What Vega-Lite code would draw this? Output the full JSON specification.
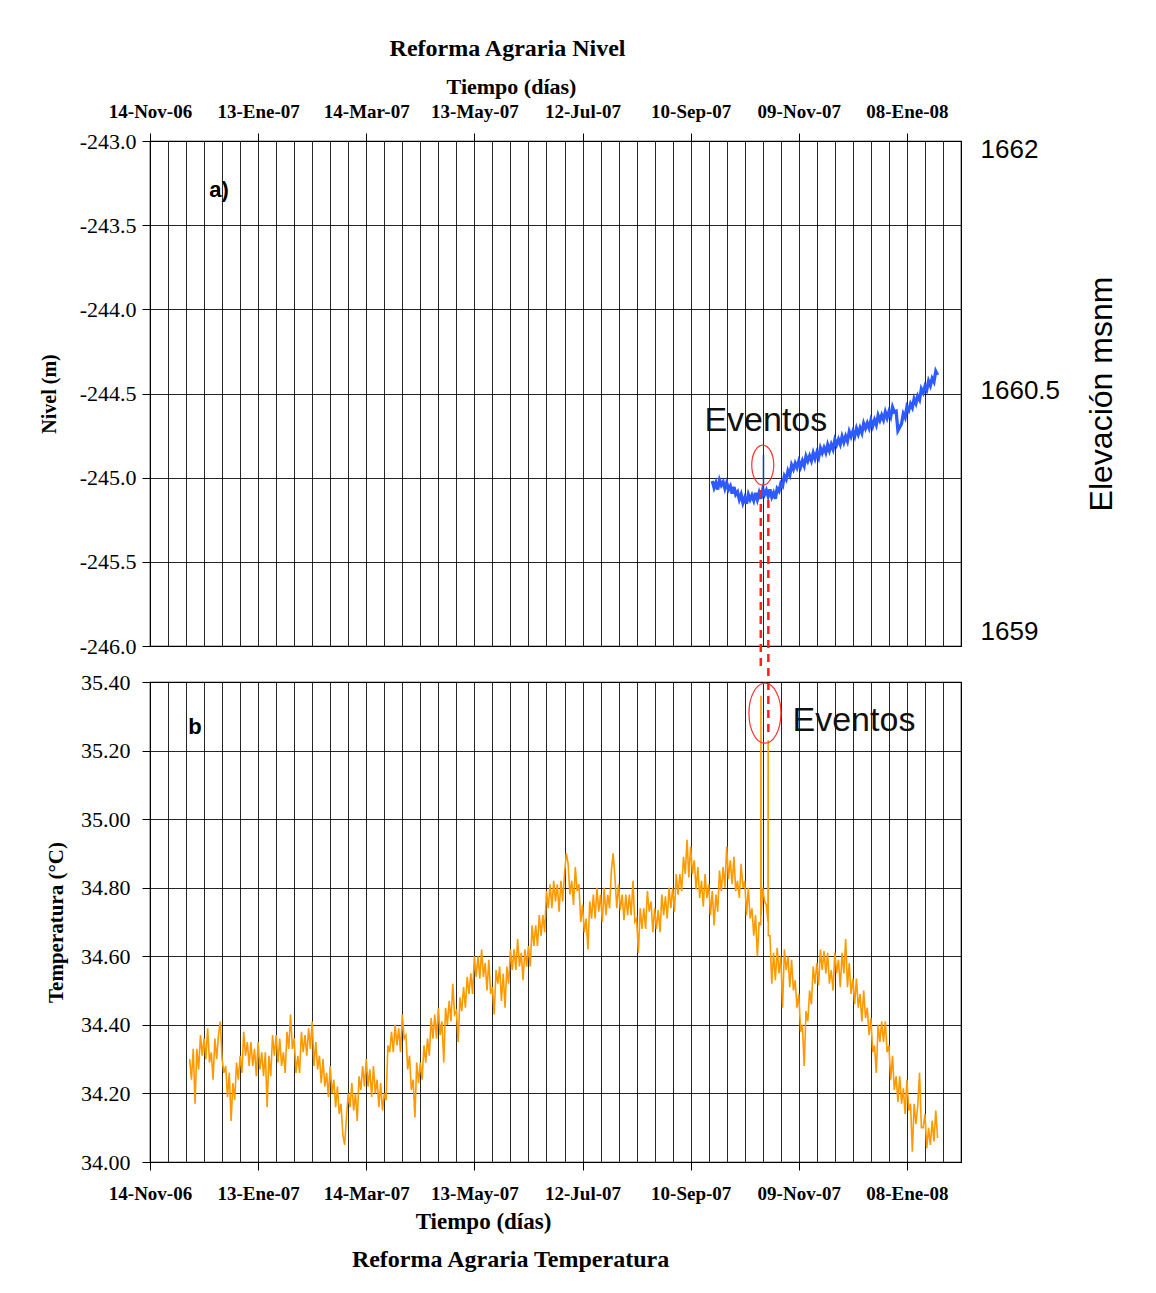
{
 "$schema": "https://vega.github.io/schema/vega-lite/v6.json",
 "padding": {"left": 38, "top": 36, "right": 10, "bottom": 10},
 "background": "white",
 "bounds": "flush",
 "spacing": 36,
 "config": {
  "view": {"stroke": "#000", "strokeWidth": 1.2},
  "axis": {"gridColor": "#000", "gridOpacity": 0.85, "gridWidth": 1, "domain": false, "tickColor": "#000", "labelColor": "#000", "titleColor": "#000"},
  "title": {"color": "#000"}
 },
 "datasets": {
  "nivel": [
   {"d":312,"v":-245.02},{"d":313,"v":-245.06},{"d":314,"v":-245.03},{"d":315,"v":-245.07},{"d":316,"v":-245.015},{"d":317,"v":-245.045},{"d":318,"v":-245.025},{"d":319,"v":-245.065},
   {"d":320,"v":-245.03},{"d":321,"v":-245.07},{"d":322,"v":-245.05},{"d":323,"v":-245.095},{"d":324,"v":-245.055},{"d":325,"v":-245.1},{"d":326,"v":-245.085},{"d":327,"v":-245.13},
   {"d":328,"v":-245.1},{"d":329,"v":-245.15},{"d":330,"v":-245.12},{"d":331,"v":-245.155},{"d":332,"v":-245.1},{"d":333,"v":-245.13},{"d":334,"v":-245.105},{"d":335,"v":-245.135},
   {"d":336,"v":-245.09},{"d":337,"v":-245.13},{"d":338,"v":-245.09},{"d":339,"v":-245.125},{"d":340,"v":-245.07},{"d":341,"v":-245.1},{"d":342,"v":-245.075},{"d":343,"v":-245.11},
   {"d":344,"v":-245.07},{"d":345,"v":-245.115},{"d":346,"v":-245.09},{"d":347,"v":-245.125},{"d":348,"v":-245.065},{"d":349,"v":-245.08},{"d":350,"v":-245.035},{"d":351,"v":-245.05},
   {"d":352,"v":-244.99},{"d":353,"v":-245.01},{"d":354,"v":-244.96},{"d":355,"v":-244.985},{"d":356,"v":-244.925},{"d":357,"v":-244.95},{"d":358,"v":-244.915},{"d":359,"v":-244.94},
   {"d":360,"v":-244.902},{"d":361,"v":-244.936},{"d":362,"v":-244.9},{"d":363,"v":-244.929},{"d":364,"v":-244.873},{"d":365,"v":-244.901},{"d":366,"v":-244.87},{"d":367,"v":-244.899},
   {"d":368,"v":-244.853},{"d":369,"v":-244.887},{"d":370,"v":-244.851},{"d":371,"v":-244.88},{"d":372,"v":-244.824},{"d":373,"v":-244.853},{"d":374,"v":-244.822},{"d":375,"v":-244.851},
   {"d":376,"v":-244.805},{"d":377,"v":-244.839},{"d":378,"v":-244.803},{"d":379,"v":-244.831},{"d":380,"v":-244.775},{"d":381,"v":-244.804},{"d":382,"v":-244.773},{"d":383,"v":-244.802},
   {"d":384,"v":-244.756},{"d":385,"v":-244.79},{"d":386,"v":-244.754},{"d":387,"v":-244.783},{"d":388,"v":-244.727},{"d":389,"v":-244.756},{"d":390,"v":-244.725},{"d":391,"v":-244.754},
   {"d":392,"v":-244.708},{"d":393,"v":-244.741},{"d":394,"v":-244.705},{"d":395,"v":-244.734},{"d":396,"v":-244.678},{"d":397,"v":-244.707},{"d":398,"v":-244.676},{"d":399,"v":-244.705},
   {"d":400,"v":-244.659},{"d":401,"v":-244.693},{"d":402,"v":-244.657},{"d":403,"v":-244.686},{"d":404,"v":-244.63},{"d":405,"v":-244.659},{"d":406,"v":-244.628},{"d":407,"v":-244.656},
   {"d":408,"v":-244.61},{"d":409,"v":-244.644},{"d":410,"v":-244.608},{"d":411,"v":-244.637},{"d":412,"v":-244.581},{"d":413,"v":-244.61},{"d":414,"v":-244.605},{"d":415,"v":-244.72},
   {"d":416,"v":-244.7},{"d":417,"v":-244.68},{"d":418,"v":-244.62},{"d":419,"v":-244.642},{"d":420,"v":-244.579},{"d":421,"v":-244.6},{"d":422,"v":-244.562},{"d":423,"v":-244.584},
   {"d":424,"v":-244.531},{"d":425,"v":-244.558},{"d":426,"v":-244.515},{"d":427,"v":-244.537},{"d":428,"v":-244.473},{"d":429,"v":-244.495},{"d":430,"v":-244.457},{"d":431,"v":-244.479},
   {"d":432,"v":-244.426},{"d":433,"v":-244.453},{"d":434,"v":-244.41},{"d":435,"v":-244.431},{"d":436,"v":-244.368},{"d":437,"v":-244.39}
  ],
  "temp": [
   {"d":22,"v":34.30},{"d":23,"v":34.24},{"d":24,"v":34.33},{"d":25,"v":34.17},{"d":26,"v":34.33},{"d":27,"v":34.27},{"d":28,"v":34.37},{"d":29,"v":34.31},
   {"d":30,"v":34.36},{"d":31,"v":34.30},{"d":32,"v":34.39},{"d":33,"v":34.29},{"d":34,"v":34.32},{"d":35,"v":34.24},{"d":36,"v":34.36},{"d":37,"v":34.30},
   {"d":38,"v":34.37},{"d":39,"v":34.41},{"d":40,"v":34.30},{"d":41,"v":34.26},{"d":42,"v":34.28},{"d":43,"v":34.19},{"d":44,"v":34.26},{"d":45,"v":34.12},
   {"d":46,"v":34.23},{"d":47,"v":34.18},{"d":48,"v":34.29},{"d":49,"v":34.24},{"d":50,"v":34.31},{"d":51,"v":34.26},{"d":52,"v":34.38},{"d":53,"v":34.31},
   {"d":54,"v":34.35},{"d":55,"v":34.28},{"d":56,"v":34.35},{"d":57,"v":34.28},{"d":58,"v":34.33},{"d":59,"v":34.25},{"d":60,"v":34.35},{"d":61,"v":34.27},
   {"d":62,"v":34.32},{"d":63,"v":34.25},{"d":64,"v":34.32},{"d":65,"v":34.16},{"d":66,"v":34.31},{"d":67,"v":34.25},{"d":68,"v":34.37},{"d":69,"v":34.31},
   {"d":70,"v":34.37},{"d":71,"v":34.29},{"d":72,"v":34.36},{"d":73,"v":34.28},{"d":74,"v":34.32},{"d":75,"v":34.26},{"d":76,"v":34.38},{"d":77,"v":34.33},
   {"d":78,"v":34.43},{"d":79,"v":34.33},{"d":80,"v":34.36},{"d":81,"v":34.26},{"d":82,"v":34.31},{"d":83,"v":34.26},{"d":84,"v":34.38},{"d":85,"v":34.32},
   {"d":86,"v":34.37},{"d":87,"v":34.31},{"d":88,"v":34.39},{"d":89,"v":34.33},{"d":90,"v":34.41},{"d":91,"v":34.28},{"d":92,"v":34.35},{"d":93,"v":34.27},
   {"d":94,"v":34.31},{"d":95,"v":34.23},{"d":96,"v":34.30},{"d":97,"v":34.22},{"d":98,"v":34.26},{"d":99,"v":34.19},{"d":100,"v":34.28},{"d":101,"v":34.20},
   {"d":102,"v":34.24},{"d":103,"v":34.16},{"d":104,"v":34.22},{"d":105,"v":34.14},{"d":106,"v":34.17},{"d":107,"v":34.08},{"d":108,"v":34.05},{"d":109,"v":34.13},
   {"d":110,"v":34.20},{"d":111,"v":34.16},{"d":112,"v":34.23},{"d":113,"v":34.15},{"d":114,"v":34.20},{"d":115,"v":34.12},{"d":116,"v":34.25},{"d":117,"v":34.21},
   {"d":118,"v":34.28},{"d":119,"v":34.22},{"d":120,"v":34.30},{"d":121,"v":34.22},{"d":122,"v":34.27},{"d":123,"v":34.19},{"d":124,"v":34.28},{"d":125,"v":34.20},
   {"d":126,"v":34.24},{"d":127,"v":34.16},{"d":128,"v":34.23},{"d":129,"v":34.15},{"d":130,"v":34.20},{"d":131,"v":34.18},{"d":132,"v":34.34},{"d":133,"v":34.32},
   {"d":134,"v":34.38},{"d":135,"v":34.32},{"d":136,"v":34.40},{"d":137,"v":34.34},{"d":138,"v":34.39},{"d":139,"v":34.32},{"d":140,"v":34.43},{"d":141,"v":34.36},
   {"d":142,"v":34.37},{"d":143,"v":34.27},{"d":144,"v":34.31},{"d":145,"v":34.21},{"d":146,"v":34.24},{"d":147,"v":34.13},{"d":148,"v":34.29},{"d":149,"v":34.23},
   {"d":150,"v":34.29},{"d":151,"v":34.24},{"d":152,"v":34.34},{"d":153,"v":34.29},{"d":154,"v":34.36},{"d":155,"v":34.31},{"d":156,"v":34.42},{"d":157,"v":34.36},
   {"d":158,"v":34.43},{"d":159,"v":34.36},{"d":160,"v":34.45},{"d":161,"v":34.37},{"d":162,"v":34.41},{"d":163,"v":34.29},{"d":164,"v":34.45},{"d":165,"v":34.40},
   {"d":166,"v":34.47},{"d":167,"v":34.41},{"d":168,"v":34.52},{"d":169,"v":34.43},{"d":170,"v":34.44},{"d":171,"v":34.35},{"d":172,"v":34.48},{"d":173,"v":34.44},
   {"d":174,"v":34.51},{"d":175,"v":34.45},{"d":176,"v":34.54},{"d":177,"v":34.49},{"d":178,"v":34.55},{"d":179,"v":34.49},{"d":180,"v":34.60},{"d":181,"v":34.54},
   {"d":182,"v":34.60},{"d":183,"v":34.535},{"d":184,"v":34.62},{"d":185,"v":34.54},{"d":186,"v":34.58},{"d":187,"v":34.50},{"d":188,"v":34.59},{"d":189,"v":34.49},
   {"d":190,"v":34.51},{"d":191,"v":34.43},{"d":192,"v":34.56},{"d":193,"v":34.52},{"d":194,"v":34.57},{"d":195,"v":34.47},{"d":196,"v":34.55},{"d":197,"v":34.45},
   {"d":198,"v":34.57},{"d":199,"v":34.52},{"d":200,"v":34.62},{"d":201,"v":34.56},{"d":202,"v":34.62},{"d":203,"v":34.56},{"d":204,"v":34.65},{"d":205,"v":34.57},
   {"d":206,"v":34.61},{"d":207,"v":34.53},{"d":208,"v":34.62},{"d":209,"v":34.57},{"d":210,"v":34.63},{"d":211,"v":34.57},{"d":212,"v":34.69},{"d":213,"v":34.63},
   {"d":214,"v":34.69},{"d":215,"v":34.63},{"d":216,"v":34.72},{"d":217,"v":34.66},{"d":218,"v":34.72},{"d":219,"v":34.67},{"d":220,"v":34.79},{"d":221,"v":34.74},
   {"d":222,"v":34.81},{"d":223,"v":34.74},{"d":224,"v":34.82},{"d":225,"v":34.76},{"d":226,"v":34.81},{"d":227,"v":34.73},{"d":228,"v":34.82},{"d":229,"v":34.76},
   {"d":230,"v":34.84},{"d":231,"v":34.90},{"d":232,"v":34.87},{"d":233,"v":34.78},{"d":234,"v":34.82},{"d":235,"v":34.75},{"d":236,"v":34.86},{"d":237,"v":34.79},
   {"d":238,"v":34.81},{"d":239,"v":34.70},{"d":240,"v":34.75},{"d":241,"v":34.67},{"d":242,"v":34.71},{"d":243,"v":34.62},{"d":244,"v":34.76},{"d":245,"v":34.71},
   {"d":246,"v":34.78},{"d":247,"v":34.71},{"d":248,"v":34.80},{"d":249,"v":34.73},{"d":250,"v":34.78},{"d":251,"v":34.70},{"d":252,"v":34.80},{"d":253,"v":34.72},
   {"d":254,"v":34.78},{"d":255,"v":34.74},{"d":256,"v":34.85},{"d":257,"v":34.90},{"d":258,"v":34.83},{"d":259,"v":34.74},{"d":260,"v":34.81},{"d":261,"v":34.735},
   {"d":262,"v":34.78},{"d":263,"v":34.705},{"d":264,"v":34.78},{"d":265,"v":34.72},{"d":266,"v":34.78},{"d":267,"v":34.72},{"d":268,"v":34.82},{"d":269,"v":34.70},
   {"d":270,"v":34.71},{"d":271,"v":34.61},{"d":272,"v":34.74},{"d":273,"v":34.68},{"d":274,"v":34.74},{"d":275,"v":34.68},{"d":276,"v":34.79},{"d":277,"v":34.73},
   {"d":278,"v":34.76},{"d":279,"v":34.67},{"d":280,"v":34.74},{"d":281,"v":34.68},{"d":282,"v":34.735},{"d":283,"v":34.67},{"d":284,"v":34.78},{"d":285,"v":34.72},
   {"d":286,"v":34.775},{"d":287,"v":34.71},{"d":288,"v":34.80},{"d":289,"v":34.74},{"d":290,"v":34.80},{"d":291,"v":34.73},{"d":292,"v":34.84},{"d":293,"v":34.78},
   {"d":294,"v":34.84},{"d":295,"v":34.79},{"d":296,"v":34.89},{"d":297,"v":34.84},{"d":298,"v":34.94},{"d":299,"v":34.83},{"d":300,"v":34.92},{"d":301,"v":34.84},
   {"d":302,"v":34.88},{"d":303,"v":34.795},{"d":304,"v":34.86},{"d":305,"v":34.77},{"d":306,"v":34.82},{"d":307,"v":34.745},{"d":308,"v":34.84},{"d":309,"v":34.77},
   {"d":310,"v":34.81},{"d":311,"v":34.72},{"d":312,"v":34.79},{"d":313,"v":34.69},{"d":314,"v":34.78},{"d":315,"v":34.73},{"d":316,"v":34.85},{"d":317,"v":34.79},
   {"d":318,"v":34.86},{"d":319,"v":34.80},{"d":320,"v":34.92},{"d":321,"v":34.825},{"d":322,"v":34.88},{"d":323,"v":34.81},{"d":324,"v":34.89},{"d":325,"v":34.79},
   {"d":326,"v":34.82},{"d":327,"v":34.77},{"d":328,"v":34.87},{"d":329,"v":34.80},{"d":330,"v":34.82},{"d":331,"v":34.72},{"d":332,"v":34.80},{"d":333,"v":34.71},
   {"d":334,"v":34.74},{"d":335,"v":34.66},{"d":336,"v":34.72},{"d":337,"v":34.60},{"d":338,"v":34.70},{"d":338.9,"v":34.69},{"d":339,"v":35.36},{"d":339.1,"v":34.72},
   {"d":340,"v":34.80},{"d":341,"v":34.76},{"d":342,"v":34.75},{"d":342.9,"v":34.70},{"d":343,"v":35.23},{"d":343.1,"v":34.66},{"d":344,"v":34.66},{"d":345,"v":34.52},
   {"d":346,"v":34.61},{"d":347,"v":34.53},{"d":348,"v":34.625},{"d":349,"v":34.55},{"d":350,"v":34.60},{"d":351,"v":34.45},{"d":352,"v":34.62},{"d":353,"v":34.56},
   {"d":354,"v":34.60},{"d":355,"v":34.51},{"d":356,"v":34.59},{"d":357,"v":34.50},{"d":358,"v":34.53},{"d":359,"v":34.45},{"d":360,"v":34.49},{"d":361,"v":34.38},
   {"d":362,"v":34.40},{"d":363,"v":34.28},{"d":364,"v":34.44},{"d":365,"v":34.41},{"d":366,"v":34.50},{"d":367,"v":34.46},{"d":368,"v":34.57},{"d":369,"v":34.52},
   {"d":370,"v":34.58},{"d":371,"v":34.515},{"d":372,"v":34.62},{"d":373,"v":34.56},{"d":374,"v":34.615},{"d":375,"v":34.55},{"d":376,"v":34.61},{"d":377,"v":34.52},
   {"d":378,"v":34.56},{"d":379,"v":34.50},{"d":380,"v":34.61},{"d":381,"v":34.55},{"d":382,"v":34.59},{"d":383,"v":34.51},{"d":384,"v":34.61},{"d":385,"v":34.55},
   {"d":386,"v":34.65},{"d":387,"v":34.51},{"d":388,"v":34.58},{"d":389,"v":34.49},{"d":390,"v":34.535},{"d":391,"v":34.46},{"d":392,"v":34.535},{"d":393,"v":34.45},
   {"d":394,"v":34.49},{"d":395,"v":34.41},{"d":396,"v":34.50},{"d":397,"v":34.42},{"d":398,"v":34.45},{"d":399,"v":34.37},{"d":400,"v":34.42},{"d":401,"v":34.32},
   {"d":402,"v":34.34},{"d":403,"v":34.26},{"d":404,"v":34.40},{"d":405,"v":34.35},{"d":406,"v":34.41},{"d":407,"v":34.35},{"d":408,"v":34.41},{"d":409,"v":34.32},
   {"d":410,"v":34.34},{"d":411,"v":34.24},{"d":412,"v":34.31},{"d":413,"v":34.21},{"d":414,"v":34.25},{"d":415,"v":34.175},{"d":416,"v":34.25},{"d":417,"v":34.17},
   {"d":418,"v":34.215},{"d":419,"v":34.14},{"d":420,"v":34.24},{"d":421,"v":34.15},{"d":422,"v":34.17},{"d":423,"v":34.03},{"d":424,"v":34.17},{"d":425,"v":34.11},
   {"d":426,"v":34.165},{"d":427,"v":34.26},{"d":428,"v":34.10},{"d":429,"v":34.10},{"d":430,"v":34.14},{"d":431,"v":34.04},{"d":432,"v":34.10},{"d":433,"v":34.05},
   {"d":434,"v":34.12},{"d":435,"v":34.06},{"d":436,"v":34.15},{"d":437,"v":34.07}
  ]
 },
 "vconcat": [
  {
   "width": 811,
   "height": 505,
   "title": {"text": "Reforma Agraria Nivel", "font": "Liberation Serif", "fontSize": 24, "fontWeight": "bold", "offset": 14, "dx": -48},
   "layer": [
    {
     "encoding": {
      "x": {"field": "d", "type": "quantitative", "scale": {"domain": [0, 450], "nice": false, "zero": false},
       "axis": {"orient": "top", "values": [0,10,20,30,40,50,60,70,80,90,100,110,120,130,140,150,160,170,180,190,200,210,220,230,240,250,260,270,280,290,300,310,320,330,340,350,360,370,380,390,400,410,420,430,440,450],
        "labelExpr": "datum.value % 60 === 0 ? replace(utcFormat(utc(2006, 10, 14) + datum.value * 86400000, '%d-%b-%y'), 'Jan', 'Ene') : ''",
        "labelFlush": false, "labelOverlap": false,
        "tickOpacity": {"condition": {"test": "datum.value % 60 === 0", "value": 1}, "value": 0},
        "tickSize": 8, "labelFont": "Liberation Serif", "labelFontSize": 19, "labelFontWeight": "bold", "labelPadding": 12,
        "title": "Tiempo (días)", "titleFont": "Liberation Serif", "titleFontSize": 22, "titleFontWeight": "bold", "titlePadding": 4, "titleX": 361, "grid": true}},
      "y": {"field": "v", "type": "quantitative", "scale": {"domain": [-246, -243], "nice": false, "zero": false},
       "axis": {"values": [-246, -245.5, -245, -244.5, -244, -243.5, -243], "labelExpr": "replace(format(datum.value, '.1f'), '\u2212', '-')", "tickSize": 8,
        "labelFont": "Liberation Serif", "labelFontSize": 22, "labelPadding": 6,
        "title": "Nivel (m)", "titleFont": "Liberation Serif", "titleFontSize": 20, "titleFontWeight": "bold", "titlePadding": 20, "grid": true}}
     },
     "layer": [
      {
       "data": {"name": "nivel"},
       "mark": {"type": "line", "color": "#2e5bff", "strokeWidth": 3.3}
      },
      {
       "data": {"values": [{"d": 340.4, "v": -245.07, "v2": -244.865}]},
       "mark": {"type": "rule", "color": "#1f3a9f", "strokeWidth": 1.5},
       "encoding": {"y2": {"field": "v2"}}
      },
      {
       "data": {"values": [{"d": 338.9, "v": -245.073, "v2": -246.155}, {"d": 343.1, "v": -245.133, "v2": -246.541}]},
       "mark": {"type": "rule", "color": "#ff2020", "strokeWidth": 2.5, "strokeDash": [8, 6]},
       "encoding": {"y2": {"field": "v2"}}
      },
      {
       "data": {"values": [{"d": 340, "v": -244.925}]},
       "mark": {"type": "point", "shape": "M -0.55 0 C -0.55 -0.5523 -0.3038 -1 0 -1 C 0.3038 -1 0.55 -0.5523 0.55 0 C 0.55 0.5523 0.3038 1 0 1 C -0.3038 1 -0.55 0.5523 -0.55 0 Z", "size": 1600, "filled": false, "stroke": "#ff3030", "strokeWidth": 1.2, "opacity": 1}
      },
      {
       "data": {"values": [{"d": 341.7, "v": -244.663, "txt": "Eventos"}]},
       "mark": {"type": "text", "font": "Liberation Sans", "fontSize": 34, "color": "#111"},
       "encoding": {"text": {"field": "txt"}}
      },
      {
       "data": {"values": [{"d": 38.3, "v": -243.29, "txt": "a)"}]},
       "mark": {"type": "text", "font": "Liberation Sans", "fontSize": 22, "fontWeight": "bold", "color": "#000"},
       "encoding": {"text": {"field": "txt"}}
      }
     ]
    },
    {
     "data": {"values": [{"elev": 1659}, {"elev": 1660.5}, {"elev": 1662}]},
     "mark": {"type": "point", "opacity": 0},
     "encoding": {
      "y": {"field": "elev", "type": "quantitative", "scale": {"domain": [1658.91, 1662.05], "nice": false, "zero": false},
       "axis": {"orient": "right", "values": [1659, 1660.5, 1662], "labelExpr": "'' + datum.value", "ticks": false, "grid": false, "domain": false,
        "labelFont": "Liberation Sans", "labelFontSize": 26, "labelPadding": 19,
        "title": "Elevación msnm", "titleFont": "Liberation Sans", "titleFontSize": 32, "titleFontWeight": "normal", "titleAngle": 270, "titleBaseline": "top", "titlePadding": 27}}
     }
    }
   ],
   "resolve": {"scale": {"y": "independent"}}
  },
  {
   "width": 811,
   "height": 480,
   "title": {"text": "Reforma Agraria Temperatura", "orient": "bottom", "font": "Liberation Serif", "fontSize": 24, "fontWeight": "bold", "offset": 15, "dx": -45},
   "encoding": {
    "x": {"field": "d", "type": "quantitative", "scale": {"domain": [0, 450], "nice": false, "zero": false},
     "axis": {"orient": "bottom", "values": [0,10,20,30,40,50,60,70,80,90,100,110,120,130,140,150,160,170,180,190,200,210,220,230,240,250,260,270,280,290,300,310,320,330,340,350,360,370,380,390,400,410,420,430,440,450],
      "labelExpr": "datum.value % 60 === 0 ? replace(utcFormat(utc(2006, 10, 14) + datum.value * 86400000, '%d-%b-%y'), 'Jan', 'Ene') : ''",
      "labelFlush": false, "labelOverlap": false,
      "tickOpacity": {"condition": {"test": "datum.value % 60 === 0", "value": 1}, "value": 0},
      "tickSize": 8, "labelFont": "Liberation Serif", "labelFontSize": 19, "labelFontWeight": "bold", "labelPadding": 14,
      "title": "Tiempo (días)", "titleFont": "Liberation Serif", "titleFontSize": 23, "titleFontWeight": "bold", "titlePadding": 7, "titleX": 333, "grid": true}},
    "y": {"field": "v", "type": "quantitative", "scale": {"domain": [34, 35.4], "nice": false, "zero": false},
     "axis": {"values": [34, 34.2, 34.4, 34.6, 34.8, 35, 35.2, 35.4], "format": ".2f", "tickSize": 8,
      "labelFont": "Liberation Serif", "labelFontSize": 22, "labelPadding": 12,
      "title": "Temperatura (°C)", "titleFont": "Liberation Serif", "titleFontSize": 21, "titleFontWeight": "bold", "titlePadding": 14, "grid": true}}
   },
   "layer": [
    {
     "data": {"name": "temp"},
     "mark": {"type": "line", "color": "#ff9900", "strokeWidth": 1.6}
    },
    {
     "data": {"values": [{"d": 341.2, "v": 35.309}]},
     "mark": {"type": "point", "shape": "M -0.533 0 C -0.533 -0.5523 -0.2944 -1 0 -1 C 0.2944 -1 0.533 -0.5523 0.533 0 C 0.533 0.5523 0.2944 1 0 1 C -0.2944 1 -0.533 0.5523 -0.533 0 Z", "size": 3600, "filled": false, "stroke": "#ff3030", "strokeWidth": 1.2, "opacity": 1}
    },
    {
     "data": {"values": [{"d": 390.6, "v": 35.286, "txt": "Eventos"}]},
     "mark": {"type": "text", "font": "Liberation Sans", "fontSize": 34, "color": "#111"},
     "encoding": {"text": {"field": "txt"}}
    },
    {
     "data": {"values": [{"d": 25, "v": 35.27, "txt": "b"}]},
     "mark": {"type": "text", "font": "Liberation Sans", "fontSize": 22, "fontWeight": "bold", "color": "#000"},
     "encoding": {"text": {"field": "txt"}}
    }
   ]
  }
 ]
}
